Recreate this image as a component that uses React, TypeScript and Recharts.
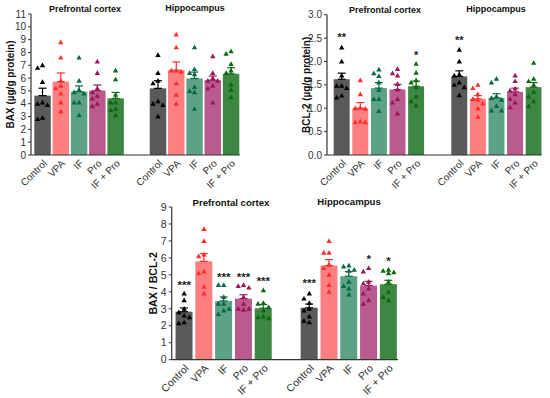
import React from 'react';
import { ComposedChart, Bar, ErrorBar, Scatter, XAxis, YAxis } from 'recharts';

const GROUPS = ['Control', 'VPA', 'IF', 'Pro', 'IF + Pro'];
const REGIONS = ['Prefrontal cortex', 'Hippocampus'];

const BAR_FILL = ['#5a5a5a', '#fe7f7f', '#5da286', '#ba5b8d', '#3e8743'];
const POINT_FILL = ['#000000', '#ff2e2e', '#066b42', '#9c1759', '#0b6a10'];

// BAX (µg/g protein)
const BAX_PFC_MEAN = [4.63, 5.72, 4.94, 5.02, 4.42];
const BAX_PFC_SEM = [0.58, 0.68, 0.45, 0.44, 0.46];
const BAX_HIP_MEAN = [5.2, 6.62, 5.97, 5.83, 6.33];
const BAX_HIP_SEM = [0.6, 0.64, 0.5, 0.33, 0.48];
const BAX_PFC_POINTS = [
  [7.0, 6.8, 5.7, 4.1, 4.0, 3.9, 2.9, 2.8],
  [8.8, 7.6, 5.8, 5.4, 5.2, 4.8, 4.1, 3.4],
  [7.6, 5.8, 5.1, 4.9, 4.8, 4.1, 4.1, 3.1],
  [7.3, 6.4, 5.2, 4.9, 4.6, 4.4, 3.8, 4.0],
  [6.6, 5.9, 4.7, 4.1, 4.1, 3.5, 3.6, 3.1],
];
const BAX_HIP_POINTS = [
  [7.8, 6.4, 5.8, 5.6, 4.2, 4.0, 3.9, 3.0],
  [9.4, 8.4, 6.6, 6.6, 6.5, 5.6, 4.7, 4.0],
  [8.4, 6.7, 6.4, 6.3, 5.3, 5.0, 4.9, 3.6],
  [7.7, 6.4, 6.0, 5.8, 5.8, 5.4, 5.2, 4.1],
  [8.1, 7.9, 7.1, 6.6, 6.4, 5.5, 5.1, 4.5],
];

// BCL-2 (µg/g protein)
const BCL2_PFC_MEAN = [1.62, 1.0, 1.43, 1.4, 1.47];
const BCL2_PFC_SEM = [0.13, 0.12, 0.12, 0.11, 0.11];
const BCL2_HIP_MEAN = [1.68, 1.2, 1.22, 1.35, 1.45];
const BCL2_HIP_SEM = [0.12, 0.07, 0.09, 0.08, 0.1];
const BCL2_PFC_POINTS = [
  [2.3, 2.0, 1.7, 1.48, 1.48, 1.43, 1.27, 1.23],
  [1.6, 1.3, 1.01, 1.0, 0.99, 0.72, 0.7, 0.7],
  [1.83, 1.75, 1.69, 1.55, 1.39, 1.2, 1.2, 0.94],
  [1.84, 1.75, 1.7, 1.52, 1.4, 1.2, 1.12, 0.89],
  [1.95, 1.76, 1.6, 1.55, 1.45, 1.25, 1.15, 1.06],
];
const BCL2_HIP_POINTS = [
  [2.25, 2.0, 1.72, 1.7, 1.55, 1.5, 1.45, 1.28],
  [1.5, 1.43, 1.3, 1.2, 1.18, 1.1, 1.0, 0.82],
  [1.63, 1.55, 1.25, 1.22, 1.18, 1.05, 0.95, 0.95],
  [1.7, 1.58, 1.42, 1.38, 1.3, 1.2, 1.12, 1.02],
  [1.97, 1.63, 1.58, 1.5, 1.35, 1.25, 1.15, 1.05],
];
const BCL2_PFC_SIG = ['**', '', '', '', '*'];
const BCL2_PFC_SIG_AT = [2.57, 0, 0, 0, 2.19];
const BCL2_HIP_SIG = ['**', '', '', '', ''];
const BCL2_HIP_SIG_AT = [2.51, 0, 0, 0, 0];

// BAX / BCL-2
const RATIO_PFC_MEAN = [2.83, 5.8, 3.46, 3.6, 3.03];
const RATIO_PFC_SEM = [0.22, 0.45, 0.24, 0.23, 0.22];
const RATIO_HIP_MEAN = [3.06, 5.55, 4.92, 4.37, 4.45];
const RATIO_HIP_SEM = [0.22, 0.35, 0.27, 0.25, 0.23];
const RATIO_PFC_POINTS = [
  [3.9, 3.5, 3.0, 2.8, 2.6, 2.5, 2.2, 2.15],
  [7.7, 7.0, 6.2, 6.1, 5.2, 5.1, 4.3, 3.9],
  [4.4, 4.4, 3.7, 3.3, 3.3, 3.0, 2.9, 2.7],
  [4.4, 4.35, 4.25, 3.7, 3.3, 3.0, 3.0, 2.95],
  [4.1, 3.35, 3.3, 3.1, 2.9, 2.55, 2.5, 2.45],
];
const RATIO_HIP_POINTS = [
  [3.9, 3.6, 3.35, 3.0, 2.9, 2.55, 2.3, 2.2],
  [7.0, 6.3, 6.3, 5.6, 5.4, 5.0, 4.4, 4.0],
  [5.55, 5.5, 5.3, 5.25, 4.6, 4.35, 4.2, 3.85],
  [5.4, 5.2, 4.6, 4.5, 4.2, 3.9, 3.5, 3.3],
  [5.3, 5.25, 5.15, 5.1, 4.6, 4.0, 3.7, 3.5],
];
const RATIO_PFC_SIG = ['***', '', '***', '***', '***'];
const RATIO_PFC_SIG_AT = [4.6, 0, 5.05, 5.05, 4.83];
const RATIO_HIP_SIG = ['***', '', '', '*', '*'];
const RATIO_HIP_SIG_AT = [4.68, 0, 0, 6.13, 6.01];

const FONT = '"Liberation Sans", Arial, Helvetica, sans-serif';
const AXIS = '#333333';
const HIP_OFFSET = 6.32; // second region starts after a wider gap

// spread points that would overlap sideways inside their bar
function swarm(values: number[], base: number, thresh: number) {
  const cands = [0, -0.27, 0.27, -0.14, 0.14];
  const placed: { dx: number; v: number }[] = [];
  return [...values]
    .sort((a, b) => b - a)
    .map((v) => {
      const dx =
        cands.find((c) => placed.every((p) => Math.abs(p.dx - c) > 0.2 || Math.abs(p.v - v) > thresh)) ?? 0;
      placed.push({ dx, v });
      return { pos: base + dx, v };
    });
}

const Triangle = (props: any) => {
  const { cx, cy, fill } = props;
  if (cx == null || cy == null) return null;
  return <polygon points={`${cx},${cy - 2.7} ${cx + 2.7},${cy + 2} ${cx - 2.7},${cy + 2}`} fill={fill} />;
};

// fixed-width bar centred on its slot (numeric axis gives a narrow band)
const BarShape = (props: any) => {
  const { x, y, width, height, fill, size } = props;
  if (!height || height <= 0) return null;
  const mid = x + width / 2;
  return <rect x={mid - size / 2} y={y} width={size} height={height} fill={fill} />;
};

const Stars = (props: any) => {
  const { cx, cy, payload, fontSize } = props;
  if (cx == null || cy == null) return null;
  return (
    <text x={cx} y={cy + fontSize * 0.6} textAnchor="middle" fontSize={fontSize} fontWeight="bold" fill="#222" fontFamily={FONT}>
      {payload.label}
    </text>
  );
};

interface PanelProps {
  yLabel: string;
  yMax: number;
  yTicks: number[];
  decimals: number;
  means: number[][];
  sems: number[][];
  points: number[][][];
  sig?: string[][];
  sigAt?: number[][];
  left: number;
  top: number;
  width: number;
  height: number;
  yWidth: number;
  margin: { top: number; right: number };
  xHeight: number;
  padL: number;
  padR: number;
  barSize: number;
  fontSize: number;
  titleSize: number;
  titles: { x: number; y: number }[];
  labelDx: number;
}

function Panel(p: PanelProps) {
  const rows: any[] = [];
  p.means.forEach((arr, r) =>
    arr.forEach((m, g) => {
      rows.push({ pos: g + r * HIP_OFFSET, name: GROUPS[g], [`m${g}`]: m, [`e${g}`]: [0, p.sems[r][g]] });
    })
  );
  const thresh = p.yMax * 0.036;
  const scatterData = GROUPS.map((_, g) =>
    p.points.flatMap((reg, r) => swarm(reg[g], g + r * HIP_OFFSET, thresh))
  );
  const starData: any[] = [];
  (p.sig || []).forEach((arr, r) =>
    arr.forEach((label, g) => {
      if (label) starData.push({ pos: g + r * HIP_OFFSET, v: p.sigAt![r][g], label });
    })
  );

  return (
    <div style={{ position: 'absolute', left: p.left, top: p.top, width: p.width, height: p.height }}>
      {REGIONS.map((name, r) => (
        <div
          key={name}
          style={{
            position: 'absolute',
            left: p.titles[r].x - p.left,
            top: p.titles[r].y - p.top,
            transform: 'translate(-50%, -50%)',
            fontFamily: FONT,
            fontWeight: 'bold',
            fontSize: p.titleSize,
            whiteSpace: 'nowrap',
            color: '#111',
            zIndex: 2,
          }}
        >
          {name}
        </div>
      ))}
      <ComposedChart
        width={p.width}
        height={p.height}
        data={rows}
        margin={{ top: p.margin.top, right: p.margin.right, left: 0, bottom: 0 }}
      >
        <XAxis
          type="number"
          dataKey="pos"
          domain={[-p.padL, 4 + HIP_OFFSET + p.padR]}
          ticks={rows.map((r) => r.pos)}
          tickFormatter={(_v: number, i: number) => GROUPS[i % 5]}
          interval={0}
          angle={-45}
          textAnchor="end"
          tickLine={false}
          tickSize={3}
          tickMargin={1}
          height={p.xHeight}
          allowDataOverflow
          axisLine={{ stroke: AXIS, strokeWidth: 1.2 }}
          tick={{ fontSize: p.fontSize, fill: AXIS, fontFamily: FONT }}
        />
        <YAxis
          type="number"
          domain={[0, p.yMax]}
          ticks={p.yTicks}
          interval={0}
          width={p.yWidth}
          tickSize={3}
          tickMargin={2}
          tickFormatter={(v: number) => v.toFixed(p.decimals)}
          axisLine={{ stroke: AXIS, strokeWidth: 1.2 }}
          tickLine={{ stroke: AXIS }}
          tick={{ fontSize: p.fontSize, fill: AXIS, fontFamily: FONT }}
          label={{
            value: p.yLabel,
            angle: -90,
            position: 'center',
            dx: p.labelDx,
            style: { fontSize: p.titleSize + 1, fontWeight: 'bold', fill: '#111', fontFamily: FONT },
          }}
        />
        {GROUPS.map((g, i) => (
          <Bar
            key={g}
            dataKey={`m${i}`}
            stackId="s"
            fill={BAR_FILL[i]}
            shape={<BarShape size={p.barSize} />}
            isAnimationActive={false}
          >
            <ErrorBar dataKey={`e${i}`} direction="y" width={4} stroke={POINT_FILL[i]} strokeWidth={1.2} />
          </Bar>
        ))}
        {GROUPS.map((g, i) => (
          <Scatter
            key={`pts-${g}`}
            data={scatterData[i]}
            dataKey="v"
            fill={POINT_FILL[i]}
            shape={<Triangle />}
            isAnimationActive={false}
          />
        ))}
        {starData.length > 0 && (
          <Scatter
            data={starData}
            dataKey="v"
            fill="#222"
            shape={<Stars fontSize={p.fontSize + 1} />}
            isAnimationActive={false}
          />
        )}
      </ComposedChart>
    </div>
  );
}

export default function App() {
  return (
    <div style={{ position: 'absolute', left: 0, top: 0, width: 550, height: 398, background: '#fff' }}>
      <Panel
        yLabel="BAX (µg/g protein)"
        yMax={11}
        yTicks={[0, 1, 2, 3, 4, 5, 6, 7, 8, 9, 10, 11]}
        decimals={0}
        means={[BAX_PFC_MEAN, BAX_HIP_MEAN]}
        sems={[BAX_PFC_SEM, BAX_HIP_SEM]}
        points={[BAX_PFC_POINTS, BAX_HIP_POINTS]}
        left={0}
        top={0}
        width={250}
        height={200}
        yWidth={31}
        margin={{ top: 14, right: 10 }}
        xHeight={45}
        padL={0.63}
        padR={0.49}
        barSize={16.5}
        fontSize={10}
        titleSize={9}
        titles={[{ x: 85, y: 9 }, { x: 195, y: 8 }]}
        labelDx={-5.5}
      />
      <Panel
        yLabel="BCL-2 (µg/g protein)"
        yMax={3}
        yTicks={[0, 0.5, 1, 1.5, 2, 2.5, 3]}
        decimals={1}
        means={[BCL2_PFC_MEAN, BCL2_HIP_MEAN]}
        sems={[BCL2_PFC_SEM, BCL2_HIP_SEM]}
        points={[BCL2_PFC_POINTS, BCL2_HIP_POINTS]}
        sig={[BCL2_PFC_SIG, BCL2_HIP_SIG]}
        sigAt={[BCL2_PFC_SIG_AT, BCL2_HIP_SIG_AT]}
        left={290}
        top={0}
        width={260}
        height={200}
        yWidth={37}
        margin={{ top: 14.7, right: 8.3 }}
        xHeight={45}
        padL={0.79}
        padR={0.43}
        barSize={16}
        fontSize={10}
        titleSize={9}
        titles={[{ x: 385, y: 10 }, { x: 496, y: 9 }]}
        labelDx={-2.5}
      />
      <Panel
        yLabel="BAX / BCL-2"
        yMax={9}
        yTicks={[0, 1, 2, 3, 4, 5, 6, 7, 8, 9]}
        decimals={0}
        means={[RATIO_PFC_MEAN, RATIO_HIP_MEAN]}
        sems={[RATIO_PFC_SEM, RATIO_HIP_SEM]}
        points={[RATIO_PFC_POINTS, RATIO_HIP_POINTS]}
        sig={[RATIO_PFC_SIG, RATIO_HIP_SIG]}
        sigAt={[RATIO_PFC_SIG_AT, RATIO_HIP_SIG_AT]}
        left={135}
        top={195}
        width={275}
        height={203}
        yWidth={36.7}
        margin={{ top: 12, right: 12 }}
        xHeight={38.3}
        padL={0.63}
        padR={0.48}
        barSize={17}
        fontSize={10.5}
        titleSize={9.6}
        titles={[{ x: 231, y: 202 }, { x: 349, y: 201 }]}
        labelDx={0}
      />
    </div>
  );
}
